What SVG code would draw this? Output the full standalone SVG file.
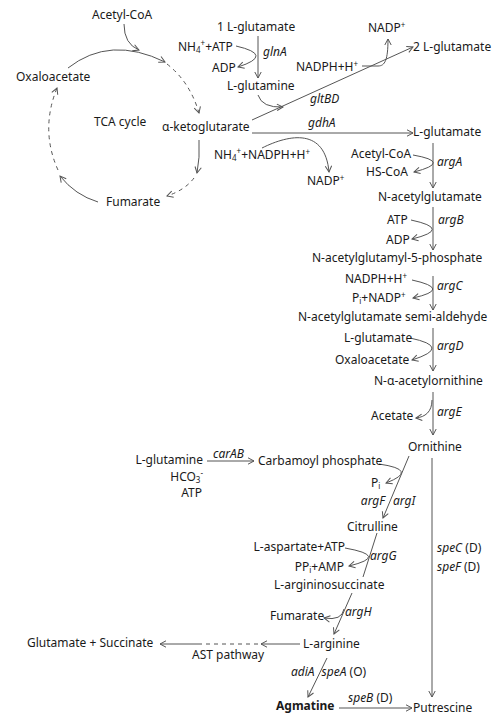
<svg xmlns="http://www.w3.org/2000/svg" width="497" height="722" viewBox="0 0 497 722">
<style>
text{font-family:"Noto Sans","Open Sans","DejaVu Sans",sans-serif;font-size:12px;fill:#1a1a1a}
.e{font-style:italic}
.b{font-weight:bold}
.s{font-size:8px}
.c{fill:none;stroke:#555;stroke-width:1}
.d{stroke-dasharray:4 4}
.a{marker-end:url(#ah)}
</style>
<defs>
<marker id="ah" viewBox="0 0 8 8" refX="7" refY="4" markerWidth="8" markerHeight="8" markerUnits="userSpaceOnUse" orient="auto">
<path d="M1,0.8 L7,4 L1,7.2" fill="none" stroke="#555" stroke-width="1"/>
</marker>
</defs>
<rect width="497" height="722" fill="#fff"/>
<g id="connectors">
<path class="c a" d="M68,68 Q110,35 165,62"/>
<path class="c d a" d="M167,64 Q190,82 199,113"/>
<path class="c a" d="M199,140 Q200,158 197,173"/>
<path class="c d a" d="M194,178 Q185,190 167,196"/>
<path class="c a" d="M98,202 Q75,195 60,176"/>
<path class="c d a" d="M58,170 Q40,130 57,88"/>
<path class="c a" d="M124,24 Q124,44 139,50"/>
<path class="c a" d="M258,36 L258,78"/>
<path class="c a" d="M236,46 Q275,55 238,67"/>
<path class="c a" d="M258,95 Q262,108 283,107"/>
<path class="c a" d="M252,120 L413,47"/>
<path class="c a" d="M362,66 L378,66 C385,66 388,60 388,39"/>
<path class="c a" d="M252,133 L413,133"/>
<path class="c a" d="M262,148 C290,134 325,128 329,172"/>
<path class="c a" d="M433,143 L433,188"/>
<path class="c a" d="M413,155 Q453,162 414,172"/>
<path class="c a" d="M433,207 L433,250"/>
<path class="c a" d="M411,220 Q453,229 412,239"/>
<path class="c a" d="M433,276 L433,310"/>
<path class="c a" d="M412,280 Q453,289 413,298"/>
<path class="c a" d="M433,328 L433,371"/>
<path class="c a" d="M410,338 Q453,347 412,360"/>
<path class="c a" d="M433,392 L433,435"/>
<path class="c a" d="M432,400 C432,412 425,417 416,418"/>
<path class="c a" d="M432,458 L432,697"/>
<path class="c a" d="M409,456 L383,518"/>
<path class="c a" d="M379,464 Q420,470 386,483"/>
<path class="c a" d="M207,461 L254,461"/>
<path class="c" d="M377,533 L363,577"/>
<path class="c a" d="M345,548 Q390,556 349,566"/>
<path class="c a" d="M352,593 L334,634"/>
<path class="c a" d="M344,609 Q342,621 324,618"/>
<path class="c a" d="M300,644 L261,644"/>
<path class="c d" d="M258,644 L200,644"/>
<path class="c a" d="M200,644 L160,644"/>
<path class="c a" d="M327,658 L308,697"/>
<path class="c a" d="M339,708 L412,708"/>
</g>
<g id="tca">
<text id="acetylcoa1" x="92" y="19">Acetyl-CoA</text>
<text id="oxaloacetate1" x="16" y="81">Oxaloacetate</text>
<text id="tcacycle" x="94" y="126">TCA cycle</text>
<text id="akg" x="162" y="131">α-ketoglutarate</text>
<text id="fumarate1" x="106" y="206">Fumarate</text>
</g>
<g id="glutamate-top">
<text x="217" y="31">1 L-glutamate</text>
<text x="178" y="51">NH<tspan class="s" dy="2">4</tspan><tspan class="s" dy="-7">+</tspan><tspan dy="5">+ATP</tspan></text>
<text x="212" y="72">ADP</text>
<text x="227" y="90">L-glutamine</text>
<text x="368" y="32">NADP<tspan class="s" dy="-4">+</tspan></text>
<text x="413" y="51">2 L-glutamate</text>
<text x="296" y="71">NADPH+H<tspan class="s" dy="-4">+</tspan></text>
</g>
<g id="gdh">
<text x="413" y="136">L-glutamate</text>
<text x="214" y="159">NH<tspan class="s" dy="2">4</tspan><tspan class="s" dy="-7">+</tspan><tspan dy="5">+NADPH+H</tspan><tspan class="s" dy="-4">+</tspan></text>
<text x="307" y="185">NADP<tspan class="s" dy="-4">+</tspan></text>
</g>
<g id="arg-chain">
<text x="351" y="158">Acetyl-CoA</text>
<text x="366" y="176">HS-CoA</text>
<text x="378" y="201">N-acetylglutamate</text>
<text x="387" y="224">ATP</text>
<text x="386" y="244">ADP</text>
<text x="312" y="262">N-acetylglutamyl-5-phosphate</text>
<text x="345" y="283">NADPH+H<tspan class="s" dy="-4">+</tspan></text>
<text x="352" y="302">P<tspan class="s" dy="2">i</tspan><tspan dy="-2">+NADP</tspan><tspan class="s" dy="-4">+</tspan></text>
<text x="298" y="321">N-acetylglutamate semi-aldehyde</text>
<text x="344" y="342">L-glutamate</text>
<text x="335" y="364">Oxaloacetate</text>
<text x="374" y="385">N-α-acetylornithine</text>
<text x="371" y="420">Acetate</text>
<text x="408" y="451">Ornithine</text>
</g>
<g id="urea">
<text x="203" y="464" text-anchor="end">L-glutamine</text>
<text x="203" y="481" text-anchor="end">HCO<tspan class="s" dy="2">3</tspan><tspan class="s" dy="-7">-</tspan></text>
<text x="202" y="497" text-anchor="end">ATP</text>
<text x="258" y="465">Carbamoyl phosphate</text>
<text x="371" y="487">P<tspan class="s" dy="2">i</tspan></text>
<text x="347" y="531">Citrulline</text>
<text x="345" y="551" text-anchor="end">L-aspartate+ATP</text>
<text x="344" y="571" text-anchor="end">PP<tspan class="s" dy="2">i</tspan><tspan dy="-2">+AMP</tspan></text>
<text x="274" y="589">L-argininosuccinate</text>
<text x="270" y="620">Fumarate</text>
<text x="303" y="648">L-arginine</text>
<text x="27" y="647">Glutamate + Succinate</text>
<text x="192" y="659">AST pathway</text>
<text class="b" x="276" y="710">Agmatine</text>
<text x="413" y="712">Putrescine</text>
</g>
<g id="enzymes">
<text class="e" x="263" y="56">glnA</text>
<text class="e" x="310" y="103">gltBD</text>
<text class="e" x="308" y="127">gdhA</text>
<text class="e" x="437" y="166">argA</text>
<text class="e" x="438" y="224">argB</text>
<text class="e" x="437" y="290">argC</text>
<text class="e" x="437" y="350">argD</text>
<text class="e" x="437" y="416">argE</text>
<text class="e" x="213" y="458">carAB</text>
<text class="e" x="385" y="505" text-anchor="end">argF</text>
<text class="e" x="393" y="505">argI</text>
<text class="e" x="370" y="560">argG</text>
<text x="437" y="552"><tspan class="e">speC</tspan> (D)</text>
<text x="437" y="571"><tspan class="e">speF</tspan> (D)</text>
<text class="e" x="345" y="616">argH</text>
<text x="291" y="676"><tspan class="e">adiA</tspan><tspan class="e" dx="7">speA</tspan> (O)</text>
<text x="348" y="702"><tspan class="e">speB</tspan> (D)</text>
</g>
</svg>
